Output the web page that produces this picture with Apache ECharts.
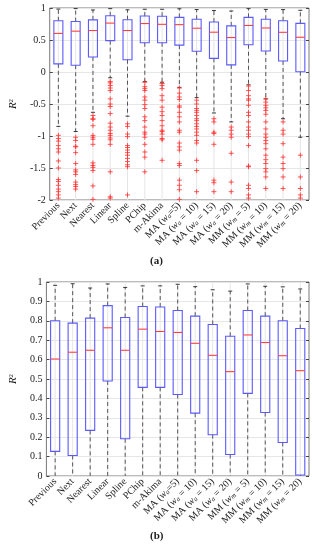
<!DOCTYPE html>
<html><head><meta charset="utf-8">
<script src="https://cdn.jsdelivr.net/npm/echarts@6/dist/echarts.min.js"></script>
<style>html,body{margin:0;padding:0;background:#fff}#c{width:312px;height:550px}</style>
</head><body><div id="c"></div>
<script>
const categories = ['Previous','Next','Nearest','Linear','Spline','PChip','m-Akima','MA (w_a=5)','MA (w_a = 10)','MA (w_a = 15)','MA (w_a = 20)','MM (w_m = 5)','MM (w_m = 10)','MM (w_m = 15)','MM (w_m = 20)'];
const upperWhisker = [0.983,0.991,0.969,0.99,0.972,0.98,0.98,0.988,0.976,0.96,0.953,0.99,0.978,0.975,0.964];
const q3 = [0.80,0.788,0.814,0.878,0.817,0.874,0.871,0.853,0.824,0.781,0.72,0.853,0.824,0.80,0.76];
const median = [0.603,0.638,0.648,0.764,0.648,0.757,0.745,0.74,0.684,0.622,0.538,0.727,0.688,0.62,0.543];
const q1 = [0.127,0.106,0.235,0.49,0.192,0.457,0.457,0.42,0.324,0.213,0.111,0.426,0.327,0.173,0.005];
const lowerWhisker = [-0.85,-0.93,-0.63,-0.09,-0.69,-0.15,-0.16,-0.24,-0.40,-0.64,-0.78,-0.20,-0.42,-0.73,-1.02];
const outliers = [
  [-0.99,-1.04,-1.08,-1.15,-1.2,-1.25,-1.39,-1.5,-1.68,-1.71,-1.77,-1.83,-1.87,-1.92,-1.97],
  [-1.02,-1.07,-1.16,-1.17,-1.26,-1.43,-1.53,-1.56,-1.6,-1.72,-1.76,-1.79,-1.83],
  [-0.68,-0.73,-0.74,-0.84,-0.99,-1.02,-1.05,-1.13,-1.42,-1.46,-1.49,-1.54,-1.78,-1.99],
  [-0.15,-0.17,-0.21,-0.25,-0.29,-0.42,-0.5,-0.54,-0.65,-0.8,-0.86,-0.91,-0.96,-0.99,-1.03,-1.06,-1.13,-1.56,-1.95,-1.97],
  [-0.81,-0.85,-0.97,-1.01,-1.15,-1.18,-1.22,-1.26,-1.3,-1.35,-1.4,-1.45,-1.48,-1.92],
  [-0.16,-0.23,-0.26,-0.29,-0.39,-0.44,-0.51,-0.57,-0.7,-0.76,-0.86,-0.94,-0.97,-1.02,-1.13,-1.25,-1.33,-1.56],
  [-0.18,-0.21,-0.26,-0.37,-0.44,-0.55,-0.62,-0.68,-0.76,-0.84,-0.91,-0.93,-0.97,-1.04,-1.06,-1.38],
  [-0.25,-0.33,-0.39,-0.43,-0.53,-0.55,-0.63,-0.7,-0.78,-0.91,-0.94,-1.11,-1.17,-1.22,-1.43,-1.46,-1.69,-1.77,-1.84,-1.99],
  [-0.44,-0.5,-0.57,-0.6,-0.63,-0.68,-0.73,-0.76,-0.81,-0.85,-0.89,-0.94,-0.99,-1.07,-1.11,-1.38,-1.54,-1.87],
  [-0.73,-0.78,-0.94,-0.96,-1.13,-1.69,-1.73,-1.87],
  [-0.86,-0.91,-0.97,-1.02,-1.27,-1.72,-1.87],
  [-0.22,-0.29,-0.37,-0.42,-0.44,-0.52,-0.63,-0.68,-0.78,-0.86,-0.91,-0.97,-1.01,-1.15,-1.47,-1.48,-1.77,-1.82,-1.92,-1.97],
  [-0.42,-0.47,-0.52,-0.56,-0.6,-0.66,-0.78,-0.89,-0.97,-1.02,-1.07,-1.12,-1.2,-1.3,-1.37,-1.43,-1.51,-1.56,-1.64,-1.82],
  [-0.78,-0.91,-0.97,-1.12,-1.33,-1.43,-1.51,-1.64,-1.82],
  [-1.3,-1.64,-1.82,-1.92,-1.97]
];
const yRangeA = {min:-2, max:1, interval:0.5};
const yRangeB = {min:0, max:1, interval:0.1};

const FONT = 'Liberation Serif';
const boxData = categories.map((c,i)=>[i, lowerWhisker[i], q1[i], median[i], q3[i], upperWhisker[i]]);
const outlierData = [];
outliers.forEach((arr,i)=>arr.forEach(v=>outlierData.push([i,v])));

function renderItem(params, api){
  const i = api.value(0);
  const cx = api.coord([i,0])[0];
  const bw = api.size([1,0])[0];
  const half = bw*0.26;
  const cs = params.coordSys;
  const yL = api.coord([i,api.value(1)])[1];
  const yQ1 = api.coord([i,api.value(2)])[1];
  const yM = api.coord([i,api.value(3)])[1];
  const yQ3 = api.coord([i,api.value(4)])[1];
  const yU = api.coord([i,api.value(5)])[1];
  const dash = {stroke:'#444', lineWidth:0.9, lineDash:[4,3]};
  const cap = {stroke:'#222', lineWidth:0.9};
  return {type:'group', children:[
    {type:'line', shape:{x1:cx,y1:cs.y,x2:cx,y2:cs.y+cs.height}, style:{stroke:'#e6e6e6',lineWidth:1}, z2:0},
    {type:'line', shape:{x1:cx,y1:yQ3,x2:cx,y2:yU}, style:dash, z2:1},
    {type:'line', shape:{x1:cx,y1:yQ1,x2:cx,y2:yL}, style:dash, z2:1},
    {type:'line', shape:{x1:cx-2,y1:yU,x2:cx+2,y2:yU}, style:cap, z2:1},
    {type:'line', shape:{x1:cx-2,y1:yL,x2:cx+2,y2:yL}, style:cap, z2:1},
    {type:'rect', shape:{x:cx-half,y:yQ3,width:2*half,height:yQ1-yQ3}, style:{fill:'rgba(255,255,255,0)',stroke:'#5a5aff',lineWidth:1.1}, z2:2},
    {type:'line', shape:{x1:cx-half,y1:yM,x2:cx+half,y2:yM}, style:{stroke:'#ff4040',lineWidth:1.1}, z2:3}
  ]};
}

function xLabel(v){
  return v.replace(/w_(\w)/, '{it|w}{sub|$1}');
}
const rich = {it:{fontFamily:FONT,fontStyle:'italic',fontSize:10,color:'#222'}, sub:{fontFamily:FONT,fontStyle:'italic',fontSize:7,color:'#222',verticalAlign:'bottom'}};

function xAxis(gi){
  return {type:'category', gridIndex:gi, data:categories, boundaryGap:true,
    axisLine:{show:false}, axisTick:{show:false}, splitLine:{show:false},
    axisLabel:{rotate:45, interval:0, margin:4, fontFamily:FONT, fontSize:10, color:'#222', formatter:xLabel, rich:rich}};
}
function yAxes(gi, r){
  return [
    {type:'value', gridIndex:gi, min:r.min, max:r.max, interval:r.interval,
     name:'{r|R}{sup|2}', nameLocation:'middle', nameRotate:90, nameGap:gi===0?21:23,
     nameTextStyle:{rich:{r:{fontFamily:FONT,fontStyle:'italic',fontSize:11,color:'#222'},sup:{fontFamily:FONT,fontSize:7,color:'#222',verticalAlign:'top'}}},
     axisLine:{show:false}, axisTick:{show:true,inside:true,length:3,lineStyle:{color:'#444'}},
     splitLine:{show:true,lineStyle:{color:'#e6e6e6',width:1}},
     axisLabel:{fontFamily:FONT,fontSize:10,color:'#222',margin:4}},
    {type:'value', gridIndex:gi, position:'right', min:r.min, max:r.max, interval:r.interval,
     axisLine:{show:false}, axisTick:{show:true,inside:true,length:3,lineStyle:{color:'#444'}},
     splitLine:{show:false}, axisLabel:{show:false}}
  ];
}

const chart = echarts.init(document.getElementById('c'), null, {renderer:'canvas'});
chart.setOption({
  animation:false,
  backgroundColor:'#fff',
  grid:[
    {left:34, right:3, top:8, height:192, show:true, borderColor:'#555', borderWidth:0.8, backgroundColor:'transparent'},
    {left:33, right:3, top:282, height:194, show:true, borderColor:'#555', borderWidth:0.8, backgroundColor:'transparent'}
  ],
  xAxis:[xAxis(0), xAxis(1)],
  yAxis:[...yAxes(0,yRangeA), ...yAxes(1,yRangeB)],
  graphic:[
    {type:'text', left:150, top:256, style:{text:'(a)', fontFamily:FONT, fontWeight:'bold', fontSize:11, fill:'#222'}},
    {type:'text', left:150, top:531, style:{text:'(b)', fontFamily:FONT, fontWeight:'bold', fontSize:11, fill:'#222'}}
  ],
  series:[
    {type:'custom', xAxisIndex:0, yAxisIndex:0, clip:true, renderItem:renderItem, data:boxData, encode:{x:0,y:[1,2,3,4,5]}},
    {type:'scatter', xAxisIndex:0, yAxisIndex:0, clip:true, data:outlierData, symbol:'path://M0,-1L0,1M-1,0L1,0', symbolSize:5,
     itemStyle:{color:'none', borderColor:'#ff3030', borderWidth:1}},
    {type:'custom', xAxisIndex:1, yAxisIndex:2, clip:true, renderItem:renderItem, data:boxData, encode:{x:0,y:[1,2,3,4,5]}}
  ]
});
</script></body></html>
